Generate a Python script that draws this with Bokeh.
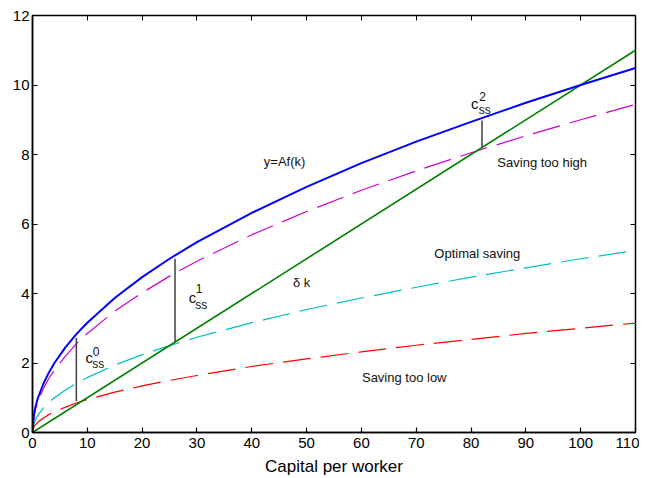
from bokeh.plotting import figure
from bokeh.models import Range1d, LinearAxis, FixedTicker, Label
from bokeh.core.properties import value
from bokeh.embed import file_html
from bokeh.resources import INLINE

# Capital per worker (x) and curves
k = [0, 0.25, 0.5, 1, 2, 3, 4, 6, 8, 10, 15, 20, 25, 30, 40, 50, 60, 70, 80, 90, 100, 110]
output = [0, 0.5, 0.71, 1.0, 1.41, 1.73, 2.0, 2.45, 2.83, 3.16, 3.87, 4.47, 5.0, 5.48,
          6.32, 7.07, 7.75, 8.37, 8.94, 9.49, 10.0, 10.49]
saving_high = [0, 0.45, 0.64, 0.9, 1.27, 1.56, 1.8, 2.2, 2.55, 2.85, 3.49, 4.02, 4.5, 4.93,
               5.69, 6.36, 6.97, 7.53, 8.05, 8.54, 9.0, 9.44]
saving_opt = [0, 0.25, 0.35, 0.5, 0.71, 0.87, 1.0, 1.22, 1.41, 1.58, 1.94, 2.24, 2.5, 2.74,
              3.16, 3.54, 3.87, 4.18, 4.47, 4.74, 5.0, 5.24]
saving_low = [0, 0.15, 0.21, 0.3, 0.42, 0.52, 0.6, 0.73, 0.85, 0.95, 1.16, 1.34, 1.5, 1.64,
              1.9, 2.12, 2.32, 2.51, 2.68, 2.85, 3.0, 3.15]
dep_k = [0, 110]
dep_y = [0, 11]

# consumption gaps (vertical segments)
css_k = [8, 26, 82]
css_bottom = [0.9, 2.6, 8.2]
css_top = [2.72, 5.0, 8.98]

x_ticks = [0, 10, 20, 30, 40, 50, 60, 70, 80, 90, 100, 110]
y_ticks = [0, 2, 4, 6, 8, 10, 12]

FONT = "Liberation Sans"

p = figure(width=639, height=478, output_backend="svg", toolbar_location=None,
           x_range=Range1d(0, 110), y_range=Range1d(0, 12),
           min_border_left=32, min_border_right=4, min_border_top=15, min_border_bottom=10)
p.background_fill_color = "white"
p.border_fill_color = "white"
p.outline_line_color = "black"
p.outline_line_width = 1.5
p.xgrid.visible = False
p.ygrid.visible = False

for ax, ticks in ((p.xaxis[0], x_ticks), (p.yaxis[0], y_ticks)):
    ax.ticker = FixedTicker(ticks=ticks)
    ax.major_tick_in = 5
    ax.major_tick_out = 0
    ax.minor_tick_line_color = None
    ax.axis_line_color = "black"
    ax.axis_line_width = 1.5
    ax.major_tick_line_width = 1.2
    ax.major_label_text_font = FONT
    ax.major_label_text_font_size = "15px"
    ax.major_label_text_color = "black"
    ax.major_label_standoff = 3

p.xaxis.major_label_standoff = 5
p.xaxis.axis_label = "Capital per worker"
p.xaxis.axis_label_text_font = FONT
p.xaxis.axis_label_text_font_size = "17px"
p.xaxis.axis_label_text_font_style = "normal"
p.xaxis.axis_label_text_color = "black"
p.xaxis.axis_label_standoff = 6

top_ax = LinearAxis(ticker=FixedTicker(ticks=x_ticks), major_tick_in=5, major_tick_out=0,
                    minor_tick_line_color=None, major_label_text_font_size="1px",
                    major_label_overrides={t: "" for t in x_ticks},
                    axis_line_color=None, major_label_standoff=0)
right_ax = LinearAxis(ticker=FixedTicker(ticks=y_ticks), major_tick_in=5, major_tick_out=0,
                      minor_tick_line_color=None, major_label_text_font_size="1px",
                      major_label_overrides={t: "" for t in y_ticks},
                      axis_line_color=None, major_label_standoff=0)
p.add_layout(top_ax, "above")
p.add_layout(right_ax, "right")

p.line(k, saving_low, line_color="#ff0000", line_width=1.2, line_dash="28 10")
p.line(k, saving_opt, line_color="#00bfbf", line_width=1.2, line_dash="28 10")
p.line(k, saving_high, line_color="#cc00cc", line_width=1.2, line_dash="28 10")
p.line(dep_k, dep_y, line_color="#008000", line_width=1.6)
p.line(k, output, line_color="#0000ff", line_width=2)

p.segment(x0=css_k, y0=css_bottom, x1=css_k, y1=css_top, line_color="#404040", line_width=1.5)

def txt(x, y, s, size="13px"):
    p.text(x=[x], y=[y], text=[s], text_font=value(FONT), text_font_size=size,
           text_color="#111111", text_baseline="alphabetic", text_align="left")

txt(42.2, 7.81, "y=Af(k)")
txt(84.8, 7.78, "Saving too high")
txt(73.3, 5.14, "Optimal saving")
txt(60.1, 1.59, "Saving too low")
txt(47.5, 4.31, "δ k")

# c_ss labels: c, subscript ss, superscript index
css_labels = [("0", 9.67, 2.16, 10.9, 1.96, 11.0, 2.34),
              ("1", 28.5, 3.88, 29.7, 3.68, 29.8, 4.14),
              ("2", 80.0, 9.47, 81.4, 9.29, 81.5, 9.67)]
for idx, cx, cy, sx, sy, ix, iy in css_labels:
    txt(cx, cy, "c", "15px")
    txt(sx, sy, "ss", "12px")
    txt(ix, iy, idx, "12px")

p.add_layout(Label(x=47.6, y=12, y_offset=10, text="·", text_font=FONT,
                   text_font_size="10px", text_font_style="bold",
                   text_baseline="middle", text_align="center", text_color="black"))

open("out.html", "w").write(file_html(p, INLINE))
